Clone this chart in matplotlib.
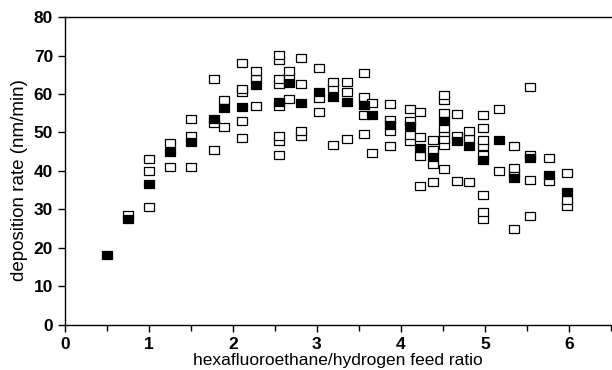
import matplotlib
matplotlib.use("Agg")
import matplotlib.pyplot as plt
from matplotlib.ticker import MultipleLocator

# averaged runs (filled squares)
avg_ratio = [0.5, 0.75, 1.0, 1.25, 1.5, 1.78, 1.9, 2.11, 2.28, 2.55, 2.67, 2.81,
             3.03, 3.19, 3.36, 3.56, 3.66, 3.87, 4.11, 4.23, 4.38, 4.51, 4.67,
             4.81, 4.98, 5.17, 5.35, 5.54, 5.76, 5.98]
avg_rate = [18.2, 27.4, 36.6, 44.8, 47.4, 53.6, 56.3, 56.6, 62.3, 58.0, 62.8, 57.6,
            60.6, 59.3, 58.0, 57.1, 54.5, 51.9, 51.7, 45.9, 43.5, 52.9, 47.7,
            46.4, 42.9, 48.1, 38.1, 43.3, 39.0, 34.6]

# individual runs (open squares), grouped by feed ratio
run_groups = {
    0.75: [28.6],
    1.0: [30.7, 40.1, 43.1],
    1.25: [41.1, 47.2],
    1.5: [41.1, 49.0, 53.5],
    1.78: [45.5, 52.4, 63.9],
    1.9: [51.3, 58.4],
    2.11: [48.5, 53.1, 60.4, 61.4, 68.1],
    2.28: [56.9, 63.8, 65.9],
    2.55: [44.2, 47.7, 49.2, 56.8, 62.6, 64.0, 68.8, 70.1],
    2.67: [58.6, 64.4, 65.9],
    2.81: [49.0, 50.5, 62.6, 69.3],
    3.03: [55.2, 58.9, 66.7],
    3.19: [46.8, 61.5, 63.2],
    3.36: [48.2, 60.4, 63.2],
    3.56: [49.6, 54.5, 59.1, 65.4],
    3.66: [44.6, 57.6],
    3.87: [46.6, 50.4, 53.2, 57.4],
    4.11: [47.9, 49.4, 53.0, 56.0],
    4.23: [36.1, 43.9, 48.8, 55.2],
    4.38: [37.2, 41.7, 45.5, 48.1],
    4.51: [40.4, 46.8, 48.4, 50.0, 51.2, 55.1, 58.4, 59.7],
    4.67: [37.3, 49.0, 54.7],
    4.81: [37.0, 48.2, 50.5],
    4.98: [27.4, 29.4, 33.8, 44.2, 46.4, 48.1, 51.2, 54.5],
    5.17: [40.1, 56.0],
    5.35: [24.8, 39.4, 40.7, 46.4],
    5.54: [28.3, 37.7, 44.2, 61.7],
    5.76: [37.3, 43.3],
    5.98: [30.9, 32.5, 39.4],
}

run_ratio = [r for r, vals in run_groups.items() for v in vals]
run_rate = [v for r, vals in run_groups.items() for v in vals]

plt.rcParams['font.family'] = ['Liberation Sans', 'DejaVu Sans']

fig = plt.figure(figsize=(6.12, 3.70), dpi=100)
ax = fig.add_axes([0.106, 0.122, 0.892, 0.832])

# slightly wide box, like the scanned markers
box = [(-1.3, -1), (1.3, -1), (1.3, 1), (-1.3, 1), (-1.3, -1)]

ax.plot(run_ratio, run_rate, linestyle="none", marker=box, markersize=7.2,
        markerfacecolor="white", markeredgecolor="black", markeredgewidth=0.9,
        zorder=2)
ax.plot(avg_ratio, avg_rate, linestyle="none", marker=box, markersize=7.2,
        markerfacecolor="black", markeredgecolor="black", markeredgewidth=0.9,
        zorder=3)

ax.set_xlim(0, 6.5)
ax.set_ylim(0, 80)
ax.xaxis.set_major_locator(MultipleLocator(1))
ax.xaxis.set_minor_locator(MultipleLocator(0.5))
ax.yaxis.set_major_locator(MultipleLocator(10))

ax.spines['right'].set_visible(False)
for s in ['left', 'bottom', 'top']:
    ax.spines[s].set_linewidth(1.0)

ax.tick_params(axis='both', which='major', direction='out', length=5, width=1,
               labelsize=12.5)
ax.tick_params(axis='x', which='minor', direction='out', length=4, width=1)
for lab in ax.get_xticklabels() + ax.get_yticklabels():
    lab.set_fontweight('bold')

ax.set_xlabel("hexafluoroethane/hydrogen feed ratio", fontsize=12.5, labelpad=1)
ax.set_ylabel("deposition rate (nm/min)", fontsize=13.5, labelpad=4)
ax.yaxis.set_label_coords(-0.068, 0.47)

fig.savefig("out.png", dpi=100)
